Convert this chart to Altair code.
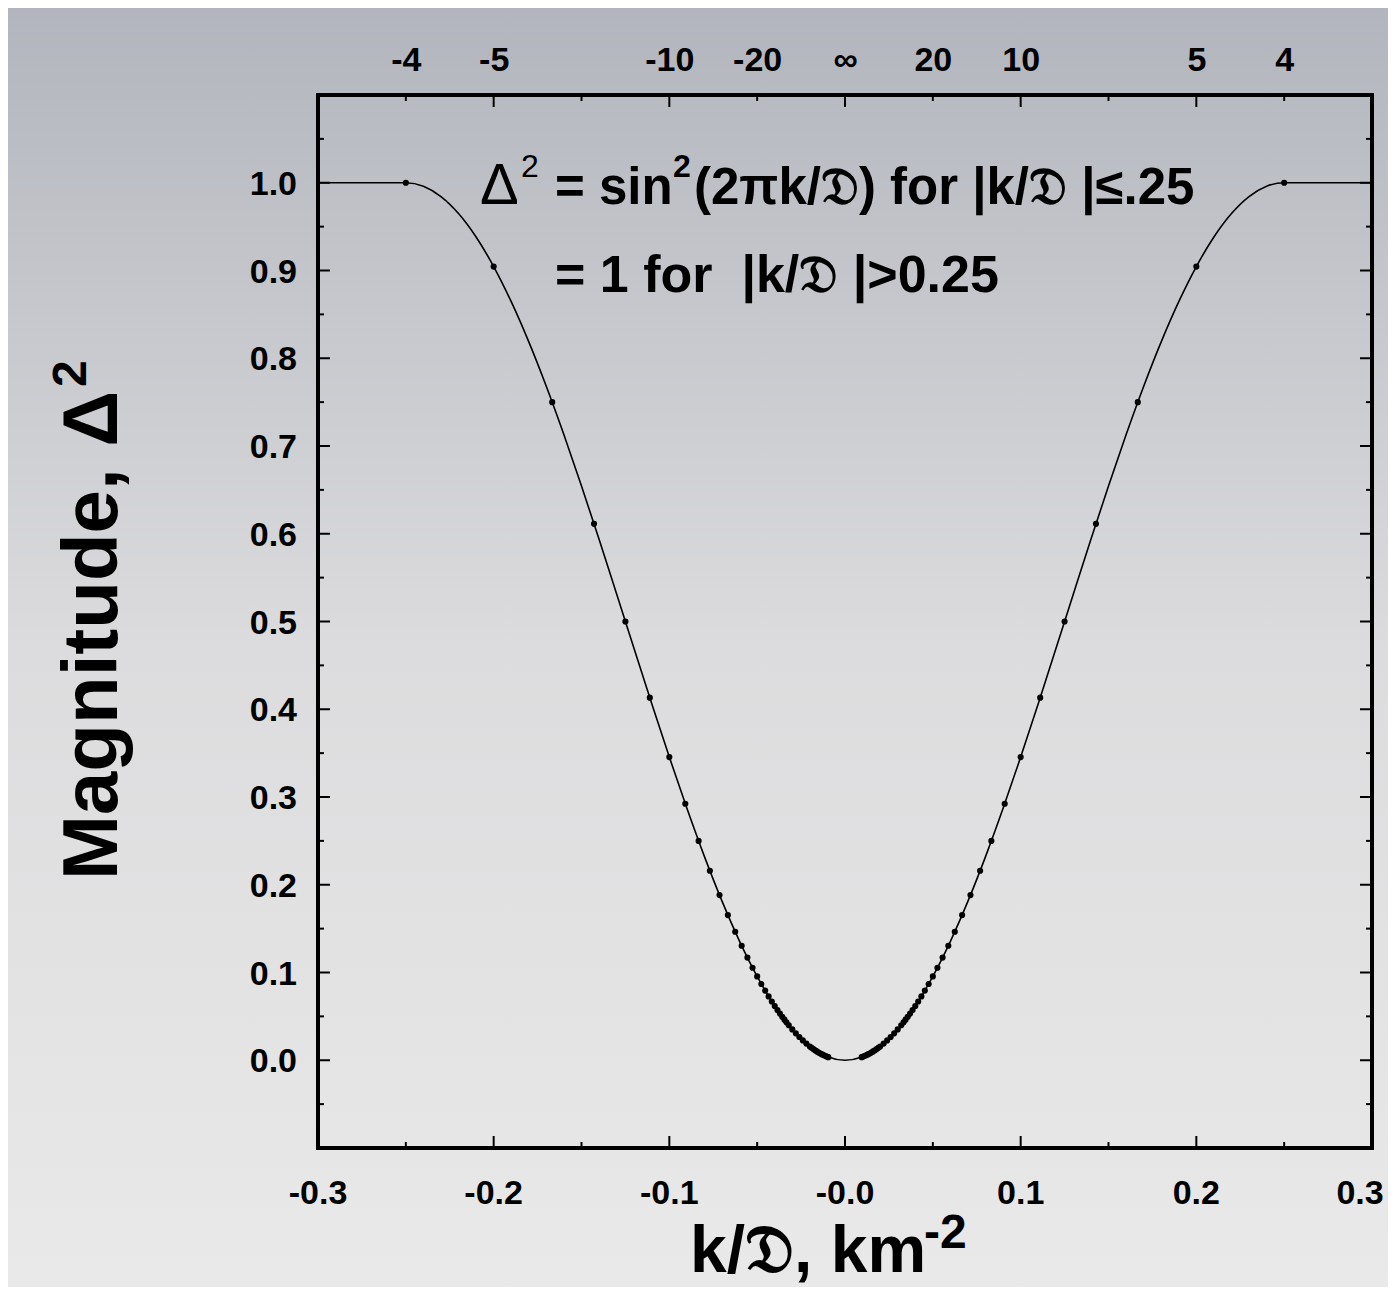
import altair as alt
import pandas as pd

# ---- data ----
curve_x = [-0.30, -0.25, -0.24, -0.23, -0.22, -0.21, -0.20, -0.19, -0.18, -0.17, -0.16,
           -0.15, -0.14, -0.13, -0.12, -0.11, -0.10, -0.09, -0.08, -0.07, -0.06, -0.05,
           -0.04, -0.03, -0.02, -0.01, 0.00, 0.01, 0.02, 0.03, 0.04, 0.05, 0.06, 0.07,
           0.08, 0.09, 0.10, 0.11, 0.12, 0.13, 0.14, 0.15, 0.16, 0.17, 0.18, 0.19, 0.20,
           0.21, 0.22, 0.23, 0.24, 0.25, 0.30]
curve_y = [1.0, 1.0, 0.99606, 0.98429, 0.96489, 0.93815, 0.90451, 0.86448, 0.81871,
           0.76791, 0.71289, 0.65451, 0.59369, 0.53140, 0.46861, 0.40631, 0.34549,
           0.28711, 0.23208, 0.18129, 0.13552, 0.09549, 0.06185, 0.03511, 0.01571,
           0.00394, 0.0, 0.00394, 0.01571, 0.03511, 0.06185, 0.09549, 0.13552, 0.18129,
           0.23208, 0.28711, 0.34549, 0.40631, 0.46861, 0.53140, 0.59369, 0.65451,
           0.71289, 0.76791, 0.81871, 0.86448, 0.90451, 0.93815, 0.96489, 0.98429,
           0.99606, 1.0, 1.0]

# sample points (|k/D| and magnitude), mirrored on both sides of zero
dot_k = [0.25, 0.2, 0.16667, 0.14286, 0.125, 0.11111, 0.1, 0.09091, 0.08333, 0.07692,
         0.07143, 0.06667, 0.0625, 0.05882, 0.05556, 0.05263, 0.05, 0.04762, 0.04545,
         0.04348, 0.04167, 0.04, 0.03846, 0.03704, 0.03571, 0.03448, 0.03333, 0.032,
         0.030, 0.028, 0.026, 0.024, 0.022, 0.020, 0.019, 0.018, 0.017, 0.016, 0.015,
         0.014, 0.013, 0.012, 0.011, 0.010, 0.0095]
dot_y = [1.0, 0.90451, 0.75, 0.61126, 0.5, 0.41318, 0.34549, 0.29229, 0.25, 0.21596,
         0.18826, 0.16543, 0.14645, 0.13049, 0.11698, 0.10543, 0.09549, 0.08688, 0.07937,
         0.07279, 0.06699, 0.06185, 0.05727, 0.05318, 0.04952, 0.04621, 0.04323, 0.03988,
         0.03511, 0.03063, 0.02645, 0.02257, 0.01899, 0.01571, 0.01418, 0.01274, 0.01137,
         0.01007, 0.00886, 0.00772, 0.00666, 0.00567, 0.00477, 0.00394, 0.00356]

x_major = [-0.3, -0.2, -0.1, 0.0, 0.1, 0.2, 0.3]
x_labels = ["-0.3", "-0.2", "-0.1", "-0.0", "0.1", "0.2", "0.3"]
x_minor = [-0.25, -0.15, -0.05, 0.05, 0.15, 0.25]
top_values = [-0.25, -0.2, -0.1, -0.05, 0.0, 0.05, 0.1, 0.2, 0.25]
top_labels = ["-4", "-5", "-10", "-20", "\u221e", "20", "10", "5", "4"]
y_major = [0.0, 0.1, 0.2, 0.3, 0.4, 0.5, 0.6, 0.7, 0.8, 0.9, 1.0]
y_labels = ["0.0", "0.1", "0.2", "0.3", "0.4", "0.5", "0.6", "0.7", "0.8", "0.9", "1.0"]
y_minor = [-0.05, 0.05, 0.15, 0.25, 0.35, 0.45, 0.55, 0.65, 0.75, 0.85, 0.95, 1.05]

FRAK_D = "\U0001D507"
NB = "\u00a0"

# ---- layout ----
W, H = 1054, 1053
PAD = {"left": 310, "top": 87, "right": 16, "bottom": 139}
FONT = "Liberation Sans"


def label_expr(values, labels):
    parts = [f"datum.value == {v} ? '{l}'" for v, l in zip(values, labels)]
    return " : ".join(parts) + " : ''"


curve_df = pd.DataFrame({"x": curve_x, "y": curve_y})
dot_df = pd.DataFrame({"x": [-k for k in dot_k] + dot_k, "y": dot_y + dot_y})
ylab_df = pd.DataFrame({"v": y_major, "t": y_labels})
xlab_df = pd.DataFrame({"v": x_major, "t": x_labels})
one = pd.DataFrame({"a": [0]})

xs = alt.Scale(domain=[-0.3, 0.3], nice=False, zero=False)
ys = alt.Scale(domain=[-0.1, 1.1], nice=False, zero=False)

bg = alt.Chart(one).mark_rect(
    fill=alt.Gradient(
        gradient="linear",
        stops=[alt.GradientStop(color="#b2b5bd", offset=0),
               alt.GradientStop(color="#dcdcde", offset=0.5),
               alt.GradientStop(color="#e9e9e9", offset=1)],
        x1=0, x2=0, y1=0, y2=1),
).encode(
    x=alt.value(-PAD["left"]), x2=alt.value(W + PAD["right"]),
    y=alt.value(-PAD["top"]), y2=alt.value(H + PAD["bottom"]),
)

line = alt.Chart(curve_df).mark_line(
    color="black", strokeWidth=1.6, interpolate="monotone"
).encode(
    x=alt.X("x:Q", scale=xs, axis=None),
    y=alt.Y("y:Q", scale=ys, axis=None),
)

dots = alt.Chart(dot_df).mark_circle(color="black", size=38, opacity=1).encode(
    x=alt.X("x:Q", scale=xs, axis=alt.Axis(
        orient="top", values=top_values, labelExpr=label_expr(top_values, top_labels),
        labelPadding=18, ticks=False, domain=False, grid=False, labelFontSize=34,
        labelFont=FONT, labelFontWeight="bold", labelColor="black",
        labelFlush=False, labelOverlap=False, title=None, zindex=2)),
    y=alt.Y("y:Q", scale=ys, axis=None),
)

ylabels = alt.Chart(ylab_df).mark_text(
    align="right", baseline="middle", font=FONT, fontSize=34, fontWeight="bold",
    color="black", dy=2,
).encode(
    y=alt.Y("v:Q", scale=ys, axis=None), text="t:N", x=alt.value(-21),
)

xlab_style = dict(align="center", baseline="alphabetic", font=FONT, fontSize=34,
                  fontWeight="bold", color="black")
xlabels = alt.Chart(xlab_df).transform_filter("datum.v < 0.25").mark_text(
    **xlab_style
).encode(
    x=alt.X("v:Q", scale=xs, axis=None), text="t:N", y=alt.value(H + 56),
)
xlabel_last = alt.Chart(xlab_df).transform_filter("datum.v > 0.25").mark_text(
    dx=-12, **xlab_style
).encode(
    x=alt.X("v:Q", scale=xs, axis=None), text="t:N", y=alt.value(H + 56),
)


def xticks(vals, y0, y1):
    return alt.Chart(pd.DataFrame({"v": vals})).mark_rule(
        color="black", strokeWidth=2).encode(
        x=alt.X("v:Q", scale=xs, axis=None), y=alt.value(y0), y2=alt.value(y1))


def yticks(vals, x0, x1):
    return alt.Chart(pd.DataFrame({"v": vals})).mark_rule(
        color="black", strokeWidth=2).encode(
        y=alt.Y("v:Q", scale=ys, axis=None), x=alt.value(x0), x2=alt.value(x1))


ticks = [
    xticks(x_major, H, H - 12), xticks(x_minor, H, H - 6),
    xticks(x_major, 0, 12), xticks(x_minor, 0, 6),
    yticks(y_major, 0, 12), yticks(y_minor, 0, 6),
    yticks(y_major, W, W - 12), yticks(y_minor, W, W - 6),
]

frame = alt.Chart(one).mark_rect(
    filled=False, stroke="black", strokeWidth=4, fillOpacity=0
).encode(x=alt.value(0), x2=alt.value(W), y=alt.value(0), y2=alt.value(H))


def txt(text, x, y, size, weight="bold", angle=0, align="left"):
    return alt.Chart(one).mark_text(
        align=align, baseline="alphabetic", font=FONT, fontSize=size,
        fontWeight=weight, color="black", angle=angle).encode(
        x=alt.value(x), y=alt.value(y), text=alt.value(text))


texts = [
    # annotation line 1
    txt("\u0394", 162, 109, 58, weight="normal"),
    txt("2", 203, 82, 32, weight="normal"),
    txt("= sin", 237, 109, 51),
    txt("2", 355, 82, 32),
    txt(f"(2\u03c0k/{FRAK_D}) for |k/{FRAK_D}{NB}|\u2264.25", 376, 109, 51),
    # annotation line 2
    txt(f"= 1 for{NB}{NB}|k/{FRAK_D}{NB}|>0.25", 237, 197, 52),
    # x title
    txt(f"k/{FRAK_D}, km", 372, 1177, 66),
    txt("-2", 606, 1153, 48),
    # y title
    txt("Magnitude, \u0394", -201, 785, 78, angle=270),
    txt("2", -232, 292, 48, angle=270),
]

chart = alt.layer(
    bg, *ticks, line, dots, ylabels, xlabels, xlabel_last, frame, *texts
).resolve_axis(
    x="independent"
).properties(
    width=W, height=H, padding=PAD,
    autosize=alt.AutoSizeParams(type="none"),
    background="#dcdcde",
).configure_view(stroke=None)

chart.save("out.html", embed_options={"renderer": "svg", "actions": False})
